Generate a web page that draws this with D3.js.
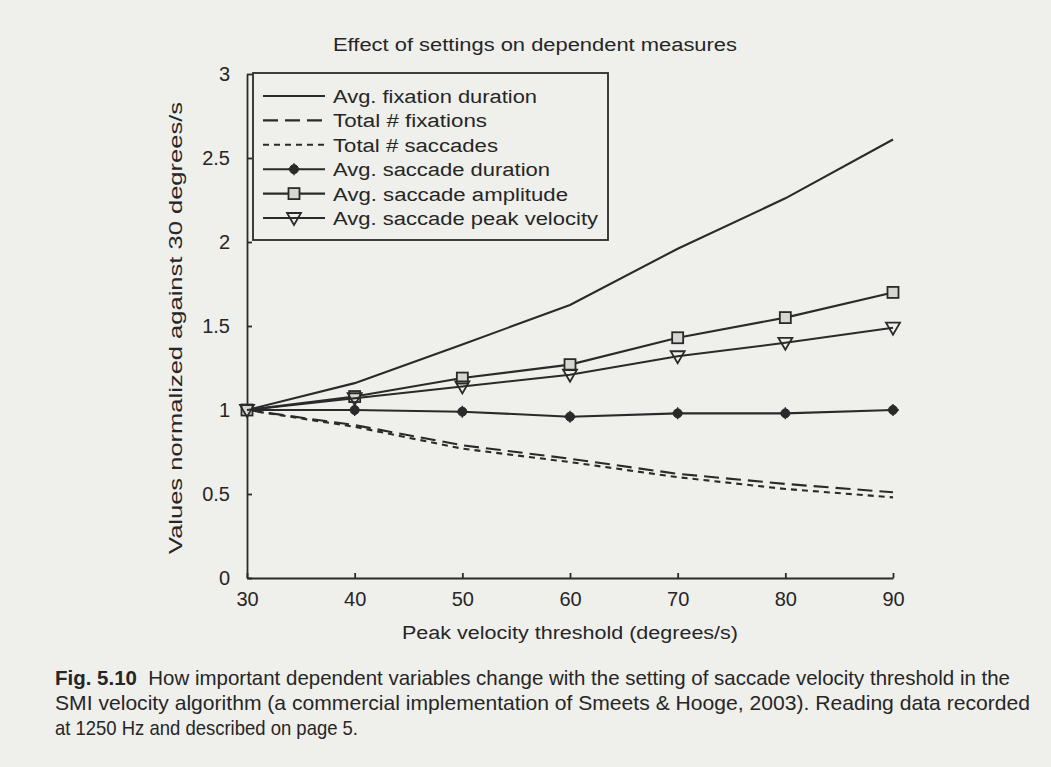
<!DOCTYPE html>
<html>
<head>
<meta charset="utf-8">
<script src="https://cdn.jsdelivr.net/npm/d3@7"></script>
<style>
  html, body { margin: 0; padding: 0; background: #efefec; }
  svg { display: block; }
  text { font-family: "Liberation Sans", Arial, sans-serif; fill: #262626; }
</style>
</head>
<body>
<script>
// thresholds on the x axis (degrees/s)
var thresholds = [30, 40, 50, 60, 70, 80, 90];
var yTicks = [0, 0.5, 1, 1.5, 2, 2.5, 3];

// values, normalized against 30 deg/s
var fixDuration   = [1, 1.16, 1.39, 1.625, 1.96, 2.26, 2.61];
var totalFix      = [1, 0.91, 0.79, 0.71, 0.62, 0.56, 0.51];
var totalSacc     = [1, 0.90, 0.77, 0.69, 0.60, 0.53, 0.48];
var saccDuration  = [1, 1.0, 0.99, 0.96, 0.98, 0.98, 1.0];
var saccAmplitude = [1, 1.08, 1.19, 1.27, 1.43, 1.55, 1.70];
var saccPeakVel   = [1, 1.07, 1.14, 1.21, 1.32, 1.40, 1.49];

var seriesNames = ["Avg. fixation duration", "Total # fixations", "Total # saccades",
                   "Avg. saccade duration", "Avg. saccade amplitude", "Avg. saccade peak velocity"];
var seriesValues = [fixDuration, totalFix, totalSacc, saccDuration, saccAmplitude, saccPeakVel];
var legendWidths = [204, 154, 165, 217, 235, 265];
var dashes  = [null, "15,7", "6,5", null, null, null];
var markers = [null, null, null, "dot", "square", "tri"];

var ink = "#2a2a2a";

var svg = d3.select("body").append("svg")
    .attr("width", 1051)
    .attr("height", 767);

svg.append("rect").attr("width", 1051).attr("height", 767).attr("fill", "#efefec");

var x = d3.scaleLinear().domain([30, 90]).range([247, 893]);
var y = d3.scaleLinear().domain([0, 3]).range([578, 74]);

// axes
var yAxis = svg.append("g")
    .attr("transform", "translate(" + x(30) + ",0)")
    .call(d3.axisLeft(y).tickValues(yTicks).tickFormat(function(d) { return String(d); })
          .tickSizeInner(-5).tickSizeOuter(0).tickPadding(17));

var xAxis = svg.append("g")
    .attr("transform", "translate(0," + y(0) + ")")
    .call(d3.axisBottom(x).tickValues(thresholds).tickFormat(function(d) { return String(d); })
          .tickSizeInner(-5).tickSizeOuter(0).tickPadding(14));

[yAxis, xAxis].forEach(function(a) {
  a.selectAll("path, line").attr("stroke", ink).attr("stroke-width", 1.8);
  a.selectAll("text").style("font-size", "20px").attr("fill", "#262626")
    .style("font-family", "Liberation Sans, Arial, sans-serif");
});

// title and axis labels (glyphs stretched a bit, like the scan)
svg.append("text").attr("x", 535).attr("y", 51).attr("text-anchor", "middle")
  .style("font-size", "18px").attr("textLength", 404).attr("lengthAdjust", "spacingAndGlyphs")
  .text("Effect of settings on dependent measures");

svg.append("text").attr("x", 570).attr("y", 639).attr("text-anchor", "middle")
  .style("font-size", "18px").attr("textLength", 336).attr("lengthAdjust", "spacingAndGlyphs")
  .text("Peak velocity threshold (degrees/s)");

svg.append("text")
  .attr("transform", "translate(182,328) rotate(-90)")
  .attr("text-anchor", "middle")
  .style("font-size", "18px").attr("textLength", 452).attr("lengthAdjust", "spacingAndGlyphs")
  .text("Values normalized against 30 degrees/s");

// lines
var line = d3.line()
  .x(function(d, i) { return x(thresholds[i]); })
  .y(function(d) { return y(d); });

function drawMarker(g, kind, cx, cy) {
  if (kind === "dot") {
    g.append("circle").attr("cx", cx).attr("cy", cy).attr("r", 4.5)
      .attr("fill", ink).attr("stroke", ink).attr("stroke-width", 1);
    g.append("path").attr("d", "M" + (cx - 6) + "," + cy + "h12M" + cx + "," + (cy - 6) + "v12")
      .attr("stroke", ink).attr("stroke-width", 1.4);
  } else if (kind === "square") {
    g.append("rect").attr("x", cx - 5.5).attr("y", cy - 5.5).attr("width", 11).attr("height", 11)
      .attr("fill", "#d6d6d3").attr("stroke", ink).attr("stroke-width", 1.8);
  } else if (kind === "tri") {
    g.append("path").attr("d", "M" + (cx - 7) + "," + (cy - 5) + "h14l-7,12z")
      .attr("fill", "none").attr("stroke", ink).attr("stroke-width", 1.8);
  }
}

var plot = svg.append("g");
seriesValues.forEach(function(vals, s) {
  plot.append("path").datum(vals)
    .attr("d", line)
    .attr("fill", "none")
    .attr("stroke", ink)
    .attr("stroke-width", 2.1)
    .attr("stroke-dasharray", dashes[s]);
  if (markers[s]) {
    vals.forEach(function(v, i) { drawMarker(plot, markers[s], x(thresholds[i]), y(v)); });
  }
});

// legend
var legend = svg.append("g");
legend.append("rect").attr("x", 253).attr("y", 73).attr("width", 355).attr("height", 167)
  .attr("fill", "#efefec").attr("stroke", ink).attr("stroke-width", 1.8);

seriesNames.forEach(function(name, s) {
  var ly = 96 + s * 24.4;
  legend.append("line").attr("x1", 263).attr("x2", 325).attr("y1", ly).attr("y2", ly)
    .attr("stroke", ink).attr("stroke-width", 2.1).attr("stroke-dasharray", dashes[s]);
  if (markers[s]) drawMarker(legend, markers[s], 294, ly);
  legend.append("text").attr("x", 333).attr("y", ly + 7)
    .style("font-size", "18px").attr("textLength", legendWidths[s]).attr("lengthAdjust", "spacingAndGlyphs")
    .text(name);
});

// caption
var cap = svg.append("g").style("font-size", "21px");
var c1 = cap.append("text").attr("x", 55).attr("y", 685)
  .attr("textLength", 955).attr("lengthAdjust", "spacingAndGlyphs");
c1.append("tspan").style("font-weight", "bold").text("Fig. 5.10");
c1.append("tspan").text("\u00a0\u00a0How important dependent variables change with the setting of saccade velocity threshold in the");

cap.append("text").attr("x", 55).attr("y", 710)
  .attr("textLength", 975).attr("lengthAdjust", "spacingAndGlyphs")
  .text("SMI velocity algorithm (a commercial implementation of Smeets & Hooge, 2003). Reading data recorded");

cap.append("text").attr("x", 55).attr("y", 735)
  .attr("textLength", 303).attr("lengthAdjust", "spacingAndGlyphs")
  .text("at 1250 Hz and described on page 5.");
</script>
</body>
</html>
